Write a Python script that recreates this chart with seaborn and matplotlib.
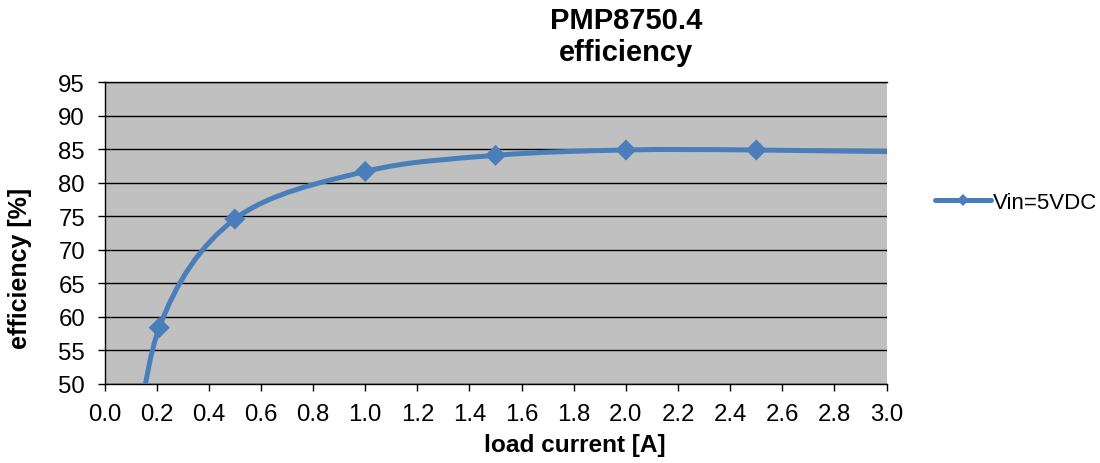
import numpy as np
import matplotlib
matplotlib.use("Agg")
import matplotlib.pyplot as plt
from matplotlib.path import Path
from matplotlib.patches import PathPatch
from matplotlib.lines import Line2D
import seaborn as sns

# measured points (load current in A, efficiency in %)
load_current = [0.1, 0.21, 0.5, 1.0, 1.5, 2.0, 2.5, 3.5]
efficiency = [33.0, 58.4, 74.6, 81.7, 84.1, 84.9, 84.9, 84.4]
series_name = "Vin=5VDC"
x_ticks = [0.0, 0.2, 0.4, 0.6, 0.8, 1.0, 1.2, 1.4, 1.6, 1.8, 2.0, 2.2, 2.4, 2.6, 2.8, 3.0]
y_ticks = [50, 55, 60, 65, 70, 75, 80, 85, 90, 95]

BLUE = "#4A7EBB"


def excel_smooth_path(xs, ys):
    # bezier segments like the spreadsheet "smoothed line" option
    pts = np.column_stack([xs, ys])
    n = len(pts)
    verts = [pts[0]]
    codes = [Path.MOVETO]
    for i in range(n - 1):
        p0 = pts[i - 1] if i > 0 else pts[i]
        p1 = pts[i]
        p2 = pts[i + 1]
        p3 = pts[i + 2] if i + 2 < n else pts[i + 1]
        c1 = p1 + (p2 - p0) / 6.0
        c2 = p2 - (p3 - p1) / 6.0
        verts += [c1, c2, p2]
        codes += [Path.CURVE4] * 3
    return Path(verts, codes)


def main():
    sns.set_style("white")
    plt.rcParams["font.family"] = ["Liberation Sans", "DejaVu Sans"]
    plt.rcParams["text.color"] = "black"
    plt.rcParams["xtick.color"] = "black"
    plt.rcParams["ytick.color"] = "black"
    plt.rcParams["xtick.labelcolor"] = "black"
    plt.rcParams["ytick.labelcolor"] = "black"

    fig = plt.figure(figsize=(11, 4.64), dpi=100)
    ax = fig.add_axes([0.095, 0.1703, 0.711, 0.6502])
    ax.set_facecolor("#C0C0C0")

    curve = PathPatch(excel_smooth_path(load_current, efficiency), facecolor="none",
                      edgecolor=BLUE, lw=3.6, capstyle="butt", joinstyle="round", zorder=3)
    ax.add_patch(curve)
    sns.scatterplot(x=load_current, y=efficiency, marker="D", s=115, color=BLUE,
                    edgecolor="none", zorder=4, ax=ax, legend=False)

    ax.set_xlim(0, 3.0)
    ax.set_ylim(50, 95)
    ax.set_xticks(x_ticks)
    ax.set_xticklabels([f"{v:.1f}" for v in x_ticks])
    ax.set_yticks(y_ticks)
    ax.tick_params(axis="both", direction="out", length=5, width=1, color="black",
                   labelcolor="black", labelsize=17.3, pad=9, bottom=True, left=True)
    ax.yaxis.grid(True, color="black", lw=1)
    ax.xaxis.grid(False)
    ax.set_axisbelow(True)
    for side in ["left", "bottom", "top"]:
        ax.spines[side].set_color("black")
        ax.spines[side].set_linewidth(1)
    ax.spines["right"].set_visible(False)

    fig.text(626 / 1100, 1 - 37 / 464, "PMP8750.4\nefficiency", ha="center", va="center",
             fontsize=21, fontweight="bold", linespacing=1.2, color="black")
    fig.text(575 / 1100, 1 - 446 / 464, "load current [A]", ha="center", va="center",
             fontsize=17.6, fontweight="bold", color="black")
    fig.text(20 / 1100, 1 - 268 / 464, "efficiency [%]", ha="center", va="center",
             rotation=90, fontsize=18, fontweight="bold", color="black")

    handle = Line2D([], [], color=BLUE, lw=3.6, marker="D", markersize=6, markeredgewidth=0)
    leg = fig.legend([handle], [series_name], loc="center left",
                     bbox_to_anchor=(915 / 1100, 1 - 203 / 464), frameon=False,
                     fontsize=16, handlelength=2.5, handletextpad=0.1)
    for t in leg.get_texts():
        t.set_color("black")

    fig.savefig("out.png", dpi=100)
    plt.close(fig)


if __name__ == "__main__":
    main()
